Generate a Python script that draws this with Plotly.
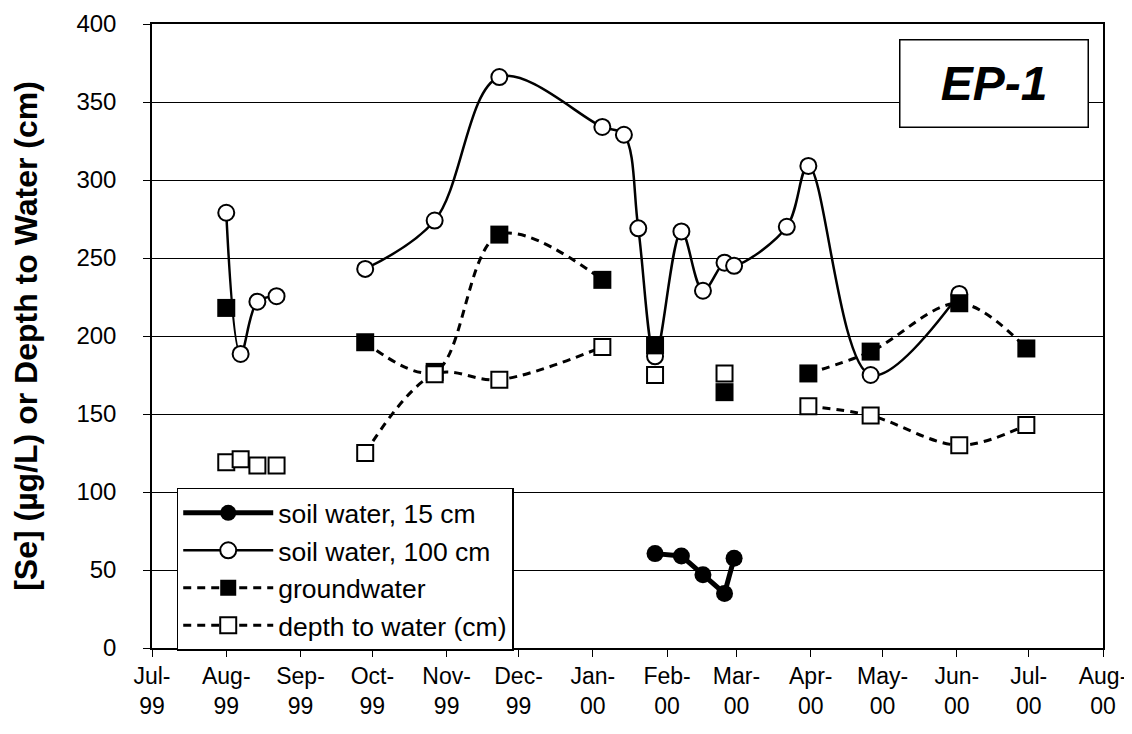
import plotly.graph_objects as go

# soil water 15 cm (thick line, filled circles)
sw15_dates = ["2000-01-27", "2000-02-07", "2000-02-16", "2000-02-25", "2000-02-29"]
sw15_vals = [60.5, 59, 47, 35, 57.5]

# soil water 100 cm (smoothed line, open circles); None = break in the line
sw100_dates = ["1999-08-01", "1999-08-07", "1999-08-14", "1999-08-22", "1999-09-10",
               "1999-09-28", "1999-10-27", "1999-11-23", "2000-01-05", "2000-01-14",
               "2000-01-20", "2000-01-27", "2000-02-07", "2000-02-16", "2000-02-25",
               "2000-02-29", "2000-03-22", "2000-03-31", "2000-04-26", "2000-06-02"]
sw100_vals = [279, 188.5, 222, 225.5, None,
              243, 274, 366, 334, 329,
              269, 187, 267, 229, 247,
              245, 270, 309, 175, 227]

# groundwater (dashed, filled squares)
gw_dates = ["1999-08-01", "1999-09-10", "1999-09-28", "1999-10-27", "1999-11-23",
            "2000-01-05", "2000-01-16", "2000-01-27", "2000-02-10", "2000-02-25",
            "2000-03-15", "2000-03-31", "2000-04-26", "2000-06-02", "2000-06-30"]
gw_vals = [218, None, 196, 177, 265,
           236, None, 194, None, 164,
           None, 176, 190, 221, 192]

# depth to water (dashed, open squares)
dtw_dates = ["1999-08-01", "1999-08-04", "1999-08-07", "1999-08-10", "1999-08-14",
             "1999-08-18", "1999-08-22", "1999-09-10", "1999-09-28", "1999-10-27",
             "1999-11-23", "2000-01-05", "2000-01-16", "2000-01-27", "2000-02-10",
             "2000-02-25", "2000-03-15", "2000-03-31", "2000-04-26", "2000-06-02",
             "2000-06-30"]
dtw_vals = [119, None, 121, None, 117,
            None, 117, None, 125, 175.5,
            172, 193, None, 175, None,
            176, None, 155, 149, 130,
            143]

tick_dates = ["1999-07-01", "1999-08-01", "1999-09-01", "1999-10-01", "1999-11-01",
              "1999-12-01", "2000-01-01", "2000-02-01", "2000-03-01", "2000-04-01",
              "2000-05-01", "2000-06-01", "2000-07-01", "2000-08-01"]
tick_months = ["Jul", "Aug", "Sep", "Oct", "Nov", "Dec", "Jan", "Feb", "Mar", "Apr",
               "May", "Jun", "Jul", "Aug"]
tick_years = ["99"] * 6 + ["00"] * 8

FONT = "Arial, Liberation Sans, sans-serif"
DASH = "8px,6px"

fig = go.Figure()

fig.add_trace(go.Scatter(
    x=sw15_dates, y=sw15_vals, mode="lines+markers", name="soil water, 15 cm",
    line=dict(color="black", width=5),
    marker=dict(symbol="circle", size=17, color="black"),
))
fig.add_trace(go.Scatter(
    x=sw100_dates, y=sw100_vals, mode="lines+markers", name="soil water, 100 cm",
    line=dict(color="black", width=2.5, shape="spline", smoothing=1),
    marker=dict(symbol="circle", size=16, color="white", line=dict(color="black", width=2)),
    connectgaps=False,
))
fig.add_trace(go.Scatter(
    x=gw_dates, y=gw_vals, mode="lines+markers", name="groundwater",
    line=dict(color="black", width=3, dash=DASH, shape="spline", smoothing=1),
    marker=dict(symbol="square", size=18, color="black"),
    connectgaps=False,
))
fig.add_trace(go.Scatter(
    x=dtw_dates, y=dtw_vals, mode="lines+markers", name="depth to water (cm)",
    line=dict(color="black", width=3, dash=DASH, shape="spline", smoothing=1),
    marker=dict(symbol="square", size=16, color="white", line=dict(color="black", width=2)),
    connectgaps=False,
))

fig.add_annotation(
    text="<b><i>EP-1</i></b>", xref="paper", yref="paper", x=0.885, y=0.904,
    xanchor="center", yanchor="middle",
    showarrow=False, font=dict(family=FONT, size=48, color="black"),
    bgcolor="white", bordercolor="black", borderwidth=1.5,
    width=185, height=84,
)

fig.update_xaxes(
    type="date", range=["1999-07-01", "2000-08-01"],
    tickvals=tick_dates,
    ticktext=[f"{m}-<br>{y}" for m, y in zip(tick_months, tick_years)],
    tickfont=dict(family=FONT, size=23, color="black"),
    ticks="outside", ticklen=7, tickcolor="black",
    showgrid=False, showline=True, linecolor="black", linewidth=1.5, mirror=True,
    zeroline=False, automargin=False,
)
fig.update_yaxes(
    range=[0, 400], dtick=50,
    tickfont=dict(family=FONT, size=24, color="black"),
    ticks="outside", ticklen=7, tickcolor="black", ticklabelstandoff=22,
    showgrid=True, gridcolor="black", gridwidth=1,
    showline=True, linecolor="black", linewidth=1.5, mirror=True,
    zeroline=False, automargin=False,
    title=dict(text="<b>[Se] (µg/L) or Depth to Water (cm)</b>",
               font=dict(family=FONT, size=32, color="black"), standoff=40),
)

fig.update_layout(
    width=1132, height=734,
    margin=dict(l=144, r=37, t=16, b=94),
    paper_bgcolor="white", plot_bgcolor="white",
    font=dict(family=FONT, color="black"),
    legend=dict(
        x=0.026, y=0.257, xanchor="left", yanchor="top",
        bgcolor="white", bordercolor="black", borderwidth=1.5,
        font=dict(family=FONT, size=26.5, color="black"),
        itemwidth=90, tracegroupgap=0,
    ),
)

fig.write_html("out.html")
